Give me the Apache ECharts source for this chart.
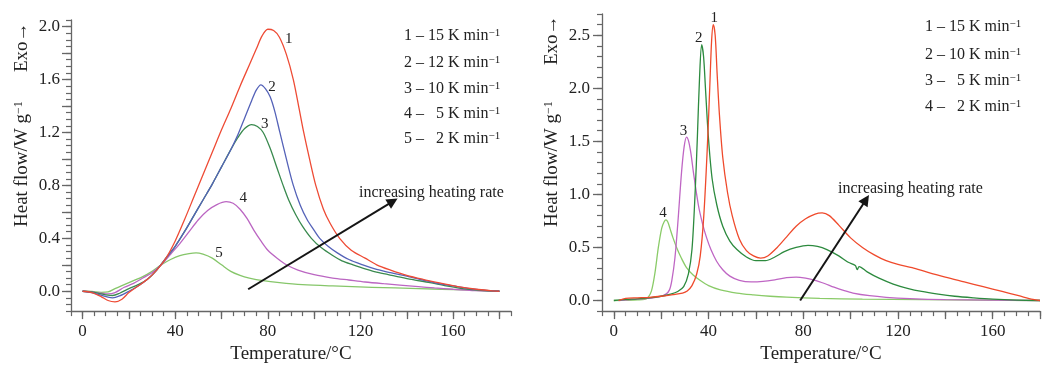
<!DOCTYPE html>
<html><head><meta charset="utf-8">
<script src="https://cdn.jsdelivr.net/npm/echarts@6/dist/echarts.min.js"></script>
<style>html,body{margin:0;padding:0;background:#fff}#c{width:1044px;height:369px}</style>
</head><body><div id="c"></div>
<script>
// ---------------- DATA ----------------
// Left panel: heat flow (W/g) vs temperature (°C)
const leftRed = [[0,0],[4,-0.01],[8,-0.04],[11,-0.07],[14,-0.08],[17,-0.06],[20,-0.01],[24,0.04],[28,0.09],[32,0.16],[36,0.25],[40,0.38],[44,0.54],[48,0.71],[52,0.88],[56,1.05],[60,1.22],[64,1.38],[68,1.55],[72,1.71],[75,1.83],[77.5,1.93],[80,1.98],[82.5,1.97],[85,1.92],[88,1.79],[91,1.6],[93.5,1.38],[95.5,1.2],[98,1.0],[100.7,0.8],[104,0.62],[107,0.51],[111,0.4],[116,0.31],[122,0.25],[127,0.2],[133,0.16],[140,0.12],[147,0.09],[155,0.06],[162,0.035],[170,0.015],[176,0.005],[180,0]];
const leftBlue = [[0,0],[4,-0.01],[8,-0.03],[11,-0.045],[13,-0.05],[16,-0.035],[20,0.0],[24,0.04],[28,0.09],[32,0.16],[36,0.25],[40,0.34],[44,0.45],[48,0.57],[52,0.69],[56,0.81],[60,0.94],[64,1.07],[67,1.18],[70,1.31],[73,1.44],[75,1.52],[77,1.56],[79,1.53],[81,1.47],[83,1.36],[85.2,1.2],[88,1.0],[91,0.8],[94,0.65],[97,0.54],[100,0.46],[102.4,0.4],[106,0.34],[110,0.29],[115,0.24],[121,0.2],[127,0.165],[133,0.14],[140,0.115],[147,0.085],[153,0.06],[160,0.04],[167,0.02],[174,0.007],[180,0]];
const leftGreen = [[0,0],[4,-0.005],[8,-0.02],[11,-0.03],[13,-0.032],[16,-0.015],[20,0.02],[24,0.05],[28,0.09],[32,0.16],[36,0.25],[40,0.34],[44,0.45],[48,0.57],[52,0.69],[56,0.81],[60,0.94],[64,1.07],[67,1.16],[70,1.23],[73,1.26],[75.5,1.245],[78,1.2],[81,1.08],[84,0.93],[86.6,0.8],[89,0.69],[92,0.58],[95,0.49],[98.8,0.4],[103,0.33],[108,0.27],[112,0.23],[116.8,0.2],[122,0.17],[128,0.14],[135,0.115],[142,0.09],[150,0.065],[157,0.04],[164,0.02],[172,0.006],[180,0]];
const leftMagenta = [[0,0],[4,-0.005],[8,-0.015],[11,-0.02],[14,-0.01],[18,0.03],[22,0.06],[26,0.1],[30,0.14],[34,0.2],[38,0.28],[42,0.36],[46,0.45],[50,0.54],[54,0.61],[58,0.655],[62,0.677],[65,0.665],[68,0.62],[71,0.55],[74,0.46],[77,0.38],[80,0.31],[84,0.25],[88,0.2],[93,0.16],[100,0.125],[108,0.1],[115,0.085],[122,0.07],[130,0.057],[137,0.047],[145,0.035],[152,0.025],[160,0.015],[170,0.005],[180,0]];
const leftLight = [[0,0],[4,-0.002],[8,-0.008],[11,-0.005],[14,0.02],[18,0.05],[22,0.08],[26,0.11],[30,0.15],[34,0.2],[38,0.24],[42,0.27],[46,0.285],[49,0.29],[52,0.28],[56,0.25],[60,0.2],[64,0.15],[68,0.12],[72,0.1],[78,0.08],[85,0.065],[95,0.05],[108,0.04],[125,0.03],[145,0.02],[165,0.01],[180,0]];

// Right panel
const rightRed = [[2,0],[5,0.02],[10,0.025],[15,0.03],[20,0.04],[25,0.055],[29,0.07],[31,0.09],[33,0.14],[35,0.25],[36.5,0.42],[38,0.8],[39.5,1.45],[40.5,2.0],[41.3,2.45],[42,2.6],[42.8,2.5],[43.6,2.15],[44.6,1.75],[46,1.35],[48,1.02],[50,0.8],[53,0.58],[56,0.47],[59,0.42],[62,0.4],[65,0.42],[69,0.5],[73,0.6],[77,0.7],[81,0.77],[85,0.815],[88,0.825],[91,0.8],[95,0.71],[100,0.59],[105,0.5],[110,0.43],[115,0.375],[120,0.34],[126,0.31],[132,0.27],[140,0.22],[148,0.175],[156,0.13],[164,0.085],[171,0.045],[177,0.01],[180,0]];
const rightGreen = [[0,0],[5,0.01],[10,0.015],[15,0.025],[20,0.04],[24,0.06],[27,0.085],[29.5,0.13],[31.5,0.25],[33,0.48],[34.3,1.0],[35.3,1.55],[36.2,2.1],[37.1,2.41],[37.9,2.3],[38.7,2.0],[39.9,1.55],[41.5,1.15],[43.5,0.9],[46,0.7],[49,0.56],[52,0.48],[56,0.41],[60,0.375],[64,0.375],[68,0.41],[72,0.46],[77,0.5],[82,0.52],[86,0.51],[90,0.48],[95,0.42],[99,0.36],[102,0.33],[102.8,0.29],[103.6,0.32],[107,0.27],[112,0.21],[118,0.155],[124,0.115],[130,0.085],[137,0.06],[144,0.04],[152,0.025],[160,0.013],[170,0.004],[180,0]];
const rightMagenta = [[2,0],[8,0.01],[14,0.02],[19,0.035],[22,0.06],[23.5,0.1],[24.5,0.19],[25.8,0.4],[27.2,0.78],[28.6,1.21],[29.7,1.45],[30.7,1.54],[31.6,1.5],[32.6,1.38],[33.6,1.21],[35.7,0.9],[37.5,0.72],[39.2,0.59],[41,0.48],[43.4,0.37],[46,0.29],[49,0.23],[53,0.19],[58,0.175],[63,0.18],[68,0.195],[73,0.215],[77,0.22],[81,0.21],[85,0.19],[89,0.16],[93,0.125],[97,0.095],[101,0.07],[108,0.045],[115,0.03],[125,0.018],[140,0.008],[160,0.003],[180,0]];
const rightLight = [[0,0],[5,0.002],[10,0.005],[13,0.01],[14.5,0.03],[15.9,0.09],[17.3,0.25],[18.8,0.5],[20.2,0.68],[21.2,0.74],[22,0.76],[22.8,0.74],[23.7,0.68],[25,0.59],[26.5,0.5],[28.5,0.4],[30.7,0.31],[33.5,0.24],[36.4,0.19],[40,0.14],[45,0.1],[52,0.07],[59,0.053],[66,0.04],[73,0.031],[87,0.02],[105,0.013],[130,0.008],[155,0.004],[180,0]];

// Legends / labels
const leftLegend = ['1 – 15 K min', '2 – 12 K min', '3 – 10 K min', '4 –   5 K min', '5 –   2 K min'];
const rightLegend = ['1 – 15 K min', '2 – 10 K min', '3 –   5 K min', '4 –   2 K min'];
const curveNamesLeft = ['1', '2', '3', '4', '5'];
const curveNamesRight = ['1', '2', '3', '4'];

// Tick values
const xLabelTicks = [0, 40, 80, 120, 160];
const xMajorTicks = [0, 20, 40, 60, 80, 100, 120, 140, 160, 180];
const leftYLabelTicks = [0, 0.4, 0.8, 1.2, 1.6, 2.0];
const leftYMajorTicks = [0, 0.2, 0.4, 0.6, 0.8, 1.0, 1.2, 1.4, 1.6, 1.8, 2.0];
const rightYLabelTicks = [0, 0.5, 1.0, 1.5, 2.0, 2.5];

// ---------------- STYLE / BUILD ----------------
function range(a, b, s) { const r = []; for (let i = 0; a + i * s <= b + 1e-9; i++) r.push(+(a + i * s).toFixed(4)); return r; }
const serif = "'Liberation Serif','Times New Roman',serif";
const axisCol = '#666';
const txt = '#222';

function mainX(grid, min, max) {
  return {
    gridIndex: grid, type: 'value', min, max, position: 'bottom',
    name: 'Temperature/°C', nameLocation: 'middle', nameGap: 31,
    nameTextStyle: { fontFamily: serif, fontSize: 19, color: txt },
    axisLine: { show: true, onZero: false, lineStyle: { color: axisCol, width: 1.3 } },
    axisTick: { show: true, customValues: xMajorTicks, length: 8, lineStyle: { color: axisCol, width: 1.3 } },
    axisLabel: { customValues: xLabelTicks, fontFamily: serif, fontSize: 17, color: txt, margin: 12 },
    splitLine: { show: false }
  };
}
function minorX(grid, min, max) {
  return {
    gridIndex: grid, type: 'value', min, max, position: 'bottom', offset: 0,
    axisLine: { show: false, onZero: false },
    axisTick: { show: true, customValues: range(min, max, 5), length: 5, lineStyle: { color: axisCol, width: 1.2 } },
    axisLabel: { show: false }, splitLine: { show: false }
  };
}
function mainY(grid, min, max, labels, majors, margin) {
  return {
    gridIndex: grid, type: 'value', min, max, position: 'left',
    axisLine: { show: true, onZero: false, lineStyle: { color: axisCol, width: 1.3 } },
    axisTick: { show: true, customValues: majors, length: 9, lineStyle: { color: axisCol, width: 1.3 } },
    axisLabel: { customValues: labels, fontFamily: serif, fontSize: 17, color: txt, margin, formatter: v => v.toFixed(1) },
    splitLine: { show: false }
  };
}
function minorY(grid, min, max, step) {
  return {
    gridIndex: grid, type: 'value', min, max, position: 'left', offset: 0,
    axisLine: { show: false, onZero: false },
    axisTick: { show: true, customValues: range(min, max, step), length: 5, lineStyle: { color: axisCol, width: 1.2 } },
    axisLabel: { show: false }, splitLine: { show: false }
  };
}
function curve(data, color, xi, label, off, extra) {
  const s = {
    type: 'line', data, xAxisIndex: xi, yAxisIndex: xi, showSymbol: false, smooth: 0.3,
    lineStyle: { color, width: 1.3 }, itemStyle: { color }, animation: false, z: 3,
    markPoint: {
      symbol: 'circle', symbolSize: 1, itemStyle: { color: 'rgba(0,0,0,0)' }, silent: true,
      label: { show: true, formatter: label, position: 'inside', offset: off, color: txt, fontSize: 15, fontFamily: serif },
      data: [{ type: 'max', valueDim: 'y' }]
    }
  };
  return Object.assign(s, extra || {});
}
function arrow(from, to) {
  return {
    silent: true, symbol: ['none', 'triangle'], symbolSize: 11, animation: false,
    lineStyle: { color: '#151515', width: 2, type: 'solid' }, itemStyle: { color: '#151515' },
    label: { show: false }, data: [[{ coord: from }, { coord: to }]]
  };
}
function legendTexts(lines, x, ys) {
  return lines.map((t, i) => ({
    type: 'text', x, y: ys[i],
    style: {
      text: t + '{s|−1}', fontFamily: serif, fontSize: 16, fill: txt, verticalAlign: 'middle',
      rich: { s: { fontFamily: serif, fontSize: 11, fill: txt, verticalAlign: 'top' } }
    }
  }));
}
function yTitle(x, y1, y2) {
  return [
    { type: 'text', x, y: y1, rotation: Math.PI / 2,
      style: { text: 'Heat flow/W g{s|−1}', fontFamily: serif, fontSize: 19, fill: txt, align: 'left', verticalAlign: 'middle',
        rich: { s: { fontFamily: serif, fontSize: 12, fill: txt, verticalAlign: 'top' } } } },
    { type: 'text', x, y: y2, rotation: Math.PI / 2,
      style: { text: 'Exo→', fontFamily: serif, fontSize: 19, fill: txt, align: 'left', verticalAlign: 'middle' } }
  ];
}

const option = {
  backgroundColor: '#fff',
  animation: false,
  grid: [
    { left: 71, top: 20, width: 440, height: 297 },
    { left: 602, top: 14, width: 438, height: 299 }
  ],
  xAxis: [mainX(0, -5, 185), minorX(0, -5, 185), mainX(1, -5, 180), minorX(1, -5, 180)],
  yAxis: [
    mainY(0, -0.15, 2.05, leftYLabelTicks, leftYMajorTicks, 11),
    minorY(0, -0.15, 2.05, 0.05),
    mainY(1, -0.1, 2.7, rightYLabelTicks, rightYLabelTicks, 12),
    minorY(1, -0.1, 2.7, 0.1)
  ],
  series: [
    curve(leftLight, '#86c66a', 0, curveNamesLeft[4], [23, 0]),
    curve(leftMagenta, '#bb66c2', 0, curveNamesLeft[3], [17, -4]),
    curve(leftGreen, '#3a8a4f', 0, curveNamesLeft[2], [13, 0]),
    curve(leftBlue, '#5462b8', 0, curveNamesLeft[1], [11, 2]),
    curve(leftRed, '#ee4b35', 0, curveNamesLeft[0], [21, 10], { markLine: arrow([71.5, 0.015], [134, 0.68]) }),
    curve(rightLight, '#8acb68', 2, curveNamesRight[3], [-3, -7]),
    curve(rightMagenta, '#bf66c4', 2, curveNamesRight[2], [-3, -6]),
    curve(rightGreen, '#2c8a3e', 2, curveNamesRight[1], [-3, -7]),
    curve(rightRed, '#ef4a2c', 2, curveNamesRight[0], [1, -7], { markLine: arrow([78.7, 0.0], [106.5, 0.95]) })
  ],
  graphic: [
    ...legendTexts(leftLegend, 404, [35.7, 62.3, 88.3, 113.3, 138.3]),
    ...legendTexts(rightLegend, 925, [26.7, 55, 81, 106.7]),
    ...yTitle(22, 227, 72),
    ...yTitle(552, 227, 65),
    { type: 'text', x: 359, y: 192.7, style: { text: 'increasing heating rate', fontFamily: serif, fontSize: 16, fill: txt, verticalAlign: 'middle' } },
    { type: 'text', x: 838, y: 189, style: { text: 'increasing heating rate', fontFamily: serif, fontSize: 16, fill: txt, verticalAlign: 'middle' } }
  ]
};
const chart = echarts.init(document.getElementById('c'), null, { renderer: 'canvas' });
chart.setOption(option);
</script></body></html>
